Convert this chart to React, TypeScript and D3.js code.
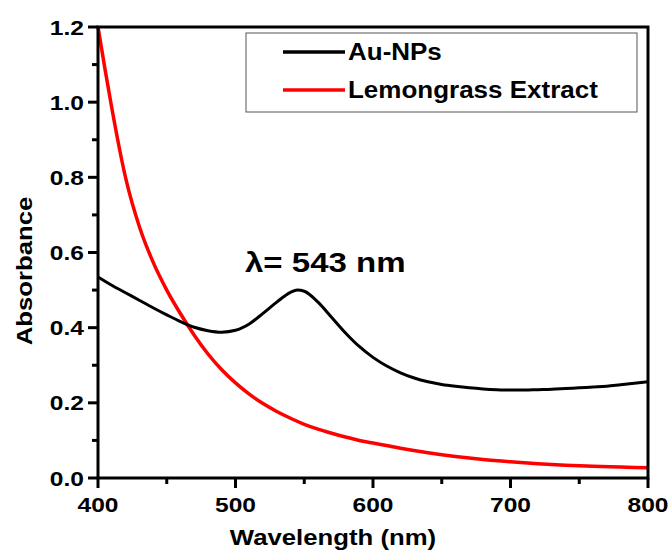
import React from 'react';
import * as d3 from 'd3';

const auWavelength = [400, 410, 420, 430, 440, 450, 460, 470, 480, 490, 500, 510, 520, 530, 540, 545, 550, 560, 570, 580, 590, 600, 610, 620, 630, 640, 650, 660, 670, 680, 690, 700, 710, 720, 730, 740, 750, 760, 770, 780, 790, 800];
const auAbsorbance = [0.535, 0.513, 0.493, 0.473, 0.453, 0.434, 0.416, 0.401, 0.392, 0.388, 0.393, 0.41, 0.438, 0.468, 0.494, 0.5, 0.497, 0.468, 0.427, 0.386, 0.35, 0.321, 0.298, 0.28, 0.266, 0.256, 0.249, 0.244, 0.24, 0.237, 0.235, 0.234, 0.234, 0.235, 0.236, 0.238, 0.24, 0.242, 0.244, 0.248, 0.252, 0.256];

const lgWavelength = [400, 405, 410, 420, 430, 440, 450, 460, 470, 480, 490, 500, 510, 520, 530, 540, 550, 560, 570, 580, 590, 600, 620, 640, 660, 680, 700, 720, 740, 760, 780, 800];
const lgAbsorbance = [1.2, 1.09, 0.985, 0.8, 0.67, 0.575, 0.5, 0.437, 0.38, 0.33, 0.288, 0.253, 0.223, 0.198, 0.177, 0.159, 0.143, 0.13, 0.119, 0.109, 0.1, 0.093, 0.079, 0.067, 0.057, 0.049, 0.043, 0.038, 0.034, 0.031, 0.029, 0.027];

const seriesNames = ['Au-NPs', 'Lemongrass Extract'];
const seriesColors = ['#000000', '#ff0000'];

const xTicks = [400, 500, 600, 700, 800];
const xMinor = [450, 550, 650, 750];
const yTicks = [0, 0.2, 0.4, 0.6, 0.8, 1.0, 1.2];
const yMinor = [0.1, 0.3, 0.5, 0.7, 0.9, 1.1];

const W = 670;
const H = 550;
const m = { left: 98, right: 22, top: 27, bottom: 72 };
const font = '"Liberation Sans", Arial, sans-serif';
// the reference text looks a little wider than Arial bold
const stretch = 1.17;

function Label(props: { x: number; y: number; size: number; anchor?: string; rotate?: number; sx?: number; children: React.ReactNode }) {
  const { x, y, size, anchor = 'start', rotate = 0, sx = stretch, children } = props;
  return (
    <text
      transform={`translate(${x},${y}) rotate(${rotate}) scale(${sx},1)`}
      textAnchor={anchor}
      fontFamily={font}
      fontWeight="bold"
      fontSize={size}
    >
      {children}
    </text>
  );
}

export default function App() {
  const x = d3.scaleLinear().domain([400, 800]).range([m.left, W - m.right]);
  const y = d3.scaleLinear().domain([0, 1.2]).range([H - m.bottom, m.top]);

  const line = d3
    .line<[number, number]>()
    .x(d => x(d[0]))
    .y(d => y(d[1]))
    .curve(d3.curveMonotoneX);

  const auPath = line(auWavelength.map((w, i) => [w, auAbsorbance[i]]));
  const lgPath = line(lgWavelength.map((w, i) => [w, lgAbsorbance[i]]));

  const x0 = x(400);
  const x1 = x(800);
  const y0 = y(0);
  const y1 = y(1.2);

  return (
    <svg width={W} height={H} style={{ position: 'absolute', left: 0, top: 0, background: '#fff' }}>
      <path d={lgPath} fill="none" stroke={seriesColors[1]} strokeWidth={3.5} />
      <path d={auPath} fill="none" stroke={seriesColors[0]} strokeWidth={3} />

      {/* frame */}
      <rect x={x0} y={y1} width={x1 - x0} height={y0 - y1} fill="none" stroke="#000" strokeWidth={3} />

      {/* x ticks */}
      {xTicks.map(t => (
        <g key={'x' + t}>
          <line x1={x(t)} x2={x(t)} y1={y0} y2={y0 + 10} stroke="#000" strokeWidth={3} />
          <Label x={x(t)} y={y0 + 34} size={21} anchor="middle">
            {t}
          </Label>
        </g>
      ))}
      {xMinor.map(t => (
        <line key={'xm' + t} x1={x(t)} x2={x(t)} y1={y0} y2={y0 + 6} stroke="#000" strokeWidth={3} />
      ))}

      {/* y ticks */}
      {yTicks.map(t => (
        <g key={'y' + t}>
          <line x1={x0 - 10} x2={x0} y1={y(t)} y2={y(t)} stroke="#000" strokeWidth={3} />
          <Label x={x0 - 14} y={y(t) + 7.5} size={21} anchor="end">
            {t.toFixed(1)}
          </Label>
        </g>
      ))}
      {yMinor.map(t => (
        <line key={'ym' + t} x1={x0 - 6} x2={x0} y1={y(t)} y2={y(t)} stroke="#000" strokeWidth={3} />
      ))}

      {/* axis titles */}
      <Label x={333} y={H - 5} size={22} anchor="middle">
        Wavelength (nm)
      </Label>
      <Label x={32} y={271} size={22} anchor="middle" rotate={-90}>
        Absorbance
      </Label>

      {/* annotation */}
      <Label x={245} y={272} size={28} sx={1.18}>
        λ= 543 nm
      </Label>

      {/* legend */}
      <rect x={246} y={33} width={391} height={79} fill="#fff" stroke="#555" strokeWidth={1} />
      {seriesNames.map((name, i) => (
        <g key={name}>
          <line x1={283} x2={345} y1={52 + i * 38} y2={52 + i * 38} stroke={seriesColors[i]} strokeWidth={3.5} />
          <Label x={348} y={60 + i * 38} size={23} sx={1.13}>
            {name}
          </Label>
        </g>
      ))}
    </svg>
  );
}
